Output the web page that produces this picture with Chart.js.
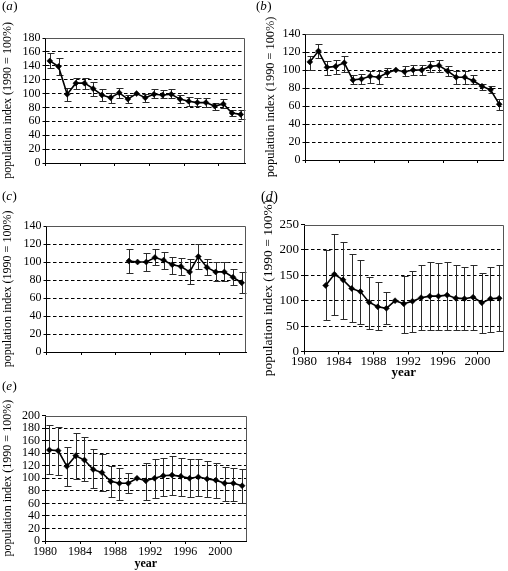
<!DOCTYPE html>
<html>
<head>
<meta charset="utf-8">
<script src="https://cdn.jsdelivr.net/npm/chart.js@4.4.0/dist/chart.umd.min.js"></script>
<style>
  body { margin: 0; background: #fff; }
  #page { position: relative; width: 508px; height: 571px; background: #fff; overflow: hidden; }
  .panel { position: absolute; }
</style>
</head>
<body>
<div id="page"></div>
<script>
const SERIF = '"Liberation Serif", "Times New Roman", serif';

// years (categories)
const yearsAll = [1980, 1981, 1982, 1983, 1984, 1985, 1986, 1987, 1988, 1989, 1990, 1991,
                  1992, 1993, 1994, 1995, 1996, 1997, 1998, 1999, 2000, 2001, 2002];
const yearsC = [1989, 1990, 1991, 1992, 1993, 1994, 1995, 1996, 1997, 1998, 1999, 2000, 2001, 2002];
const yearsD = [1982, 1983, 1984, 1985, 1986, 1987, 1988, 1989, 1990, 1991, 1992, 1993,
                1994, 1995, 1996, 1997, 1998, 1999, 2000, 2001, 2002];

// (a)
const valsA = [147, 139, 99, 115, 115, 107, 98, 94, 101, 92, 100, 94, 99, 98, 99, 92, 89, 87, 87, 82, 85, 72, 70];
const loA   = [137, 127, 89, 106, 106, 96, 90, 86, 93, 86, null, 88, 93, 93, 94, 86, 82, 82, 81, 77, 79, 68, 64];
const hiA   = [159, 151, 108, 123, 123, 116, 106, 101, 108, 98, null, 99, 106, 105, 106, 98, 95, 94, 94, 87, 92, 76, 77];

// (b)
const valsB = [109, 121, 103, 104, 108, 89, 90, 93, 92, 97, 100, 98, 100, 100, 104, 105, 99, 92, 92, 88, 82, 78, 62];
const loB   = [100, 113, 95, 96, 98, 84, 85, 86, 85, 92, null, 93, 95, 95, 98, 98, 93, 85, 85, 84, 78, 74, 56];
const hiB   = [116, 129, 110, 111, 116, 95, 96, 99, 99, 102, null, 104, 106, 106, 110, 111, 105, 99, 99, 94, 85, 82, 68];

// (c)
const valsC = [101, 100, 100, 105, 102, 97, 95, 89, 106, 94, 89, 89, 83, 77];
const loC   = [88, null, 90, 97, 92, 87, 86, 76, 92, 86, 79, 79, 74, 66];
const hiC   = [115, null, 110, 115, 111, 106, 104, 103, 120, 103, 100, 100, 92, 89];

// (d)
const valsD = [130, 152, 141, 124, 118, 97, 88, 85, 100, 94, 99, 106, 109, 109, 111, 105, 104, 107, 96, 104, 105];
const loD   = [62, 71, 64, 58, 55, 45, 43, 54, null, 36, 38, 43, 43, 43, 43, 43, 43, 43, 36, 39, 41];
const hiD   = [200, 232, 216, 191, 181, 146, 136, 118, null, 149, 159, 170, 176, 175, 176, 170, 167, 170, 154, 167, 170];

// (e)
const valsE = [145, 144, 119, 136, 129, 114, 109, 95, 92, 92, 100, 96, 100, 104, 105, 103, 100, 102, 99, 97, 92, 92, 88];
const loE   = [107, 105, 88, 99, 96, 84, 80, 70, 66, 76, null, 66, 69, 72, 73, 71, 70, 71, 70, 68, 64, 64, 60];
const hiE   = [185, 182, 150, 172, 165, 146, 138, 120, 116, 108, null, 124, 130, 133, 135, 133, 130, 131, 127, 125, 118, 117, 114];

const xTickYears = [1980, 1984, 1988, 1992, 1996, 2000];
const yTitle = 'population index (1990 = 100%)';
const xTitle = 'year';

// layout: box = container [left, top, w, h]; area = plot area [l, t, r, b] in page px
const panels = [
  { letter: 'a', years: yearsAll, vals: valsA, lo: loA, hi: hiA, yMax: 180, yStep: 20,
    box: [0, 0, 254, 190], area: [45.5, 38, 245, 163], xLabels: false, fs: 12, titleFs: 12, titlePad: 1, letterPos: [2, 7] },
  { letter: 'b', years: yearsAll, vals: valsB, lo: loB, hi: hiB, yMax: 140, yStep: 20,
    box: [254, 0, 254, 190], area: [305.5, 34, 506, 160], xLabels: false, fs: 12, titleFs: 12.3, titlePad: 9, letterPos: [2, 7] },
  { letter: 'c', years: yearsC, vals: valsC, lo: loC, hi: hiC, yMax: 140, yStep: 20,
    box: [0, 190, 254, 190], area: [46.5, 226, 246, 352], xLabels: false, fs: 12, titleFs: 12, titlePad: 1, letterPos: [2, 7] },
  { letter: 'd', years: yearsD, vals: valsD, lo: loD, hi: hiD, yMax: 250, yStep: 50,
    box: [254, 190, 254, 190], area: [304, 224.5, 506, 351.5], xLabels: true, fs: 13, titleFs: 13.5, titlePad: 6, letterPos: [7, 7], tickPad: 1 },
  { letter: 'e', years: yearsAll, vals: valsE, lo: loE, hi: hiE, yMax: 200, yStep: 20,
    box: [0, 380, 254, 191], area: [45, 415.5, 246.5, 541], xLabels: true, fs: 12, titleFs: 12, titlePad: 1, letterPos: [2, 7], tickPad: 2 }
];

const errorBars = {
  id: 'errorBars',
  beforeDatasetsDraw(chart) {
    const ctx = chart.ctx, ys = chart.scales.y;
    chart.data.datasets.forEach((ds, i) => {
      const meta = chart.getDatasetMeta(i);
      ctx.save();
      ctx.strokeStyle = '#2a2a2a';
      ctx.lineWidth = 1;
      meta.data.forEach((pt, j) => {
        if (ds.errLo[j] == null) return;
        const x = Math.round(pt.x) + 0.5;
        const y1 = Math.round(ys.getPixelForValue(ds.errHi[j])) + 0.5;
        const y2 = Math.round(ys.getPixelForValue(ds.errLo[j])) + 0.5;
        ctx.beginPath();
        ctx.moveTo(x, y1); ctx.lineTo(x, y2);
        ctx.moveTo(x - 3, y1); ctx.lineTo(x + 4, y1);
        ctx.moveTo(x - 3, y2); ctx.lineTo(x + 4, y2);
        ctx.stroke();
      });
      ctx.restore();
    });
  }
};

const frame = {
  id: 'frame',
  afterDraw(chart) {
    const { ctx, chartArea: a } = chart;
    const t = Math.round(a.top) + 0.5, r = Math.round(a.right) - 0.5;
    ctx.save();
    ctx.strokeStyle = '#555';
    ctx.lineWidth = 1;
    ctx.beginPath();
    ctx.moveTo(a.left, t); ctx.lineTo(r, t); ctx.lineTo(r, a.bottom);
    ctx.stroke();
    ctx.restore();
  }
};

const panelLetter = {
  id: 'panelLetter',
  afterDraw(chart, args, opts) {
    const ctx = chart.ctx;
    const size = opts.size;
    let x = opts.x;
    ctx.save();
    ctx.fillStyle = '#000';
    ctx.textBaseline = 'middle';
    const parts = [['(', ''], [opts.text, 'italic '], [')', '']];
    parts.forEach(([s, style]) => {
      ctx.font = style + size + 'px ' + SERIF;
      ctx.fillText(s, x, opts.y);
      x += ctx.measureText(s).width + (style ? 0.5 : 0);
    });
    ctx.restore();
  }
};

const page = document.getElementById('page');

panels.forEach(p => {
  const [bl, bt, bw, bh] = p.box;
  const [al, at, ar, ab] = p.area;
  const div = document.createElement('div');
  div.className = 'panel';
  div.style.left = bl + 'px';
  div.style.top = bt + 'px';
  div.style.width = bw + 'px';
  div.style.height = bh + 'px';
  const canvas = document.createElement('canvas');
  div.appendChild(canvas);
  page.appendChild(div);

  new Chart(canvas, {
    type: 'line',
    data: {
      datasets: [{
        data: p.years.map((yr, i) => ({ x: yr + 0.5, y: p.vals[i] })),
        errLo: p.lo,
        errHi: p.hi,
        borderColor: '#000',
        borderWidth: 1.6,
        tension: 0,
        pointStyle: 'rectRot',
        pointRadius: 3,
        pointBackgroundColor: '#000',
        pointBorderColor: '#000',
        pointBorderWidth: 0.5
      }]
    },
    options: {
      responsive: true,
      maintainAspectRatio: false,
      animation: false,
      events: [],
      layout: { padding: { left: 0, top: at - bt, right: bl + bw - ar, bottom: 0 } },
      plugins: {
        legend: { display: false },
        tooltip: { enabled: false },
        panelLetter: { text: p.letter, x: p.letterPos[0], y: p.letterPos[1], size: p.fs + 1 }
      },
      scales: {
        x: {
          type: 'linear',
          min: 1980,
          max: 2003,
          afterBuildTicks: s => { s.ticks = xTickYears.map(v => ({ value: v })); },
          afterFit: s => { s.height = bt + bh - ab; },
          grid: { drawOnChartArea: false, drawTicks: true, tickLength: 3, color: '#000' },
          border: { display: true, color: '#000', width: 1 },
          ticks: {
            display: p.xLabels,
            color: '#000',
            padding: p.tickPad || 0,
            maxRotation: 0,
            autoSkip: false,
            font: { family: SERIF, size: p.fs, lineHeight: 1 },
            callback: v => String(v)
          },
          title: {
            display: p.xLabels,
            text: xTitle,
            color: '#000',
            padding: { top: 0, bottom: 1 },
            font: { family: SERIF, size: p.fs, weight: 'bold', lineHeight: 1 }
          }
        },
        y: {
          min: 0,
          max: p.yMax,
          afterFit: s => { s.width = al - bl; },
          ticks: {
            stepSize: p.yStep,
            autoSkip: false,
            color: '#000',
            padding: 2,
            font: { family: SERIF, size: p.fs, lineHeight: 1 }
          },
          grid: {
            color: c => (c.tick && (c.tick.value === 0 || c.tick.value === p.yMax)) ? 'rgba(0,0,0,0)' : '#000',
            tickColor: '#000',
            tickLength: 3,
            lineWidth: 1
          },
          border: { display: true, color: '#000', width: 1, dash: [3.5, 2.5] },
          title: {
            display: true,
            text: yTitle,
            color: '#000',
            padding: { top: p.titlePad, bottom: 0 },
            font: { family: SERIF, size: p.titleFs }
          }
        }
      }
    },
    plugins: [errorBars, frame, panelLetter]
  });
});
</script>
</body>
</html>
